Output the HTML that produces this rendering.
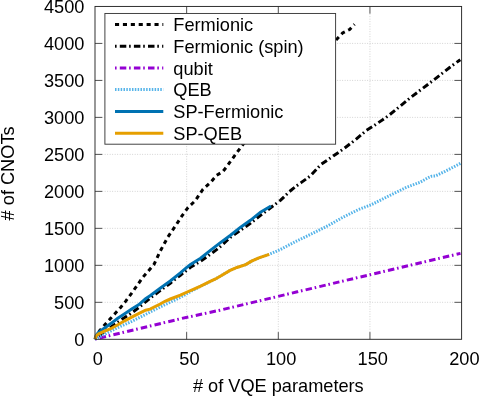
<!DOCTYPE html>
<html><head><meta charset="utf-8"><title>chart</title>
<style>
html,body{margin:0;padding:0;background:#fff;}
body{width:479px;height:396px;overflow:hidden;}
svg{display:block;will-change:transform;}
text{font-family:"Liberation Sans",sans-serif;font-size:18.2px;fill:#000;}
</style></head><body>
<svg width="479" height="396" viewBox="0 0 479 396">
<rect x="0" y="0" width="479" height="396" fill="#fff"/>
<g stroke="#b0b0b0" stroke-width="0.6" stroke-dasharray="0.9 1.6" fill="none">
<line x1="186.65" y1="332.10" x2="186.65" y2="13.64"/>
<line x1="278.30" y1="332.10" x2="278.30" y2="13.64"/>
<line x1="369.95" y1="332.10" x2="369.95" y2="13.64"/>
<line x1="102.20" y1="302.32" x2="454.40" y2="302.32"/>
<line x1="102.20" y1="265.33" x2="454.40" y2="265.33"/>
<line x1="102.20" y1="228.35" x2="454.40" y2="228.35"/>
<line x1="102.20" y1="191.36" x2="454.40" y2="191.36"/>
<line x1="102.20" y1="154.38" x2="454.40" y2="154.38"/>
<line x1="102.20" y1="117.39" x2="454.40" y2="117.39"/>
<line x1="102.20" y1="80.41" x2="454.40" y2="80.41"/>
<line x1="102.20" y1="43.42" x2="454.40" y2="43.42"/>
</g>
<g stroke="#3c3c3c" stroke-width="0.9" fill="none">
<line x1="186.65" y1="339.30" x2="186.65" y2="332.10"/>
<line x1="186.65" y1="6.44" x2="186.65" y2="13.64"/>
<line x1="278.30" y1="339.30" x2="278.30" y2="332.10"/>
<line x1="278.30" y1="6.44" x2="278.30" y2="13.64"/>
<line x1="369.95" y1="339.30" x2="369.95" y2="332.10"/>
<line x1="369.95" y1="6.44" x2="369.95" y2="13.64"/>
<line x1="95.00" y1="302.32" x2="102.20" y2="302.32"/>
<line x1="461.60" y1="302.32" x2="454.40" y2="302.32"/>
<line x1="95.00" y1="265.33" x2="102.20" y2="265.33"/>
<line x1="461.60" y1="265.33" x2="454.40" y2="265.33"/>
<line x1="95.00" y1="228.35" x2="102.20" y2="228.35"/>
<line x1="461.60" y1="228.35" x2="454.40" y2="228.35"/>
<line x1="95.00" y1="191.36" x2="102.20" y2="191.36"/>
<line x1="461.60" y1="191.36" x2="454.40" y2="191.36"/>
<line x1="95.00" y1="154.38" x2="102.20" y2="154.38"/>
<line x1="461.60" y1="154.38" x2="454.40" y2="154.38"/>
<line x1="95.00" y1="117.39" x2="102.20" y2="117.39"/>
<line x1="461.60" y1="117.39" x2="454.40" y2="117.39"/>
<line x1="95.00" y1="80.41" x2="102.20" y2="80.41"/>
<line x1="461.60" y1="80.41" x2="454.40" y2="80.41"/>
<line x1="95.00" y1="43.42" x2="102.20" y2="43.42"/>
<line x1="461.60" y1="43.42" x2="454.40" y2="43.42"/>
</g>
<polyline points="95.0,339.1 97.0,334.5 100.0,330.3 105.3,324.2 110.0,319.1 115.3,313.3 120.6,307.4 125.4,301.6 131.7,293.2 142.6,277.6 153.9,264.6 160.3,251.0 167.9,237.0 176.7,224.0 182.0,215.8 188.1,207.4 195.2,200.8 203.0,189.2 210.6,182.4 216.7,175.2 222.7,171.7 226.5,167.0 230.3,161.6 240.9,147.2 250.0,135.5" fill="none" stroke="#000" stroke-width="3" stroke-dasharray="4.1 3.8"/>
<polyline points="331.0,45.3 335.5,40.5 342.6,33.0 349.6,29.5 354.5,24.3" fill="none" stroke="#000" stroke-width="3" stroke-dasharray="4.1 3.8" stroke-dashoffset="0.55"/>
<polyline points="95.0,339.1 103.9,332.0 110.8,327.2 117.8,322.2 124.7,317.5 131.7,312.9 137.2,308.8 150.0,298.3 160.2,290.6 170.3,283.2 180.4,275.2 190.5,267.3 200.6,261.2 210.7,254.1 218.8,248.0 230.2,237.5 250.4,223.3 260.5,215.3 270.6,207.8 280.7,200.1 289.5,191.5 295.9,186.4 301.4,182.4 310.5,175.8 321.1,164.4 333.2,156.1 343.8,148.7 355.9,139.4 366.5,130.3 374.1,125.6 387.8,116.2 410.8,97.4 433.7,80.0 450.0,67.2 460.3,59.7" fill="none" stroke="#000" stroke-width="3" stroke-dasharray="1.6 3.2 6.5 2.8"/>
<polyline points="95.0,339.1 182.0,318.4 220.0,310.2 297.3,291.8 460.5,253.4" fill="none" stroke="#9400d3" stroke-width="3" stroke-dasharray="1.6 3.2 6.5 2.8"/>
<polyline points="95.0,339.1 103.9,334.6 117.8,327.6 131.7,321.4 145.6,314.4 160.2,307.0 180.4,297.4 190.5,291.6 200.6,286.3 210.7,281.3 215.0,279.2 219.8,276.5 229.6,270.7 236.9,267.5 245.7,264.6 251.5,261.2 258.9,257.8 269.2,254.3 280.0,249.7 295.7,241.5 311.3,234.0 327.0,226.2 342.7,217.4 358.4,209.6 370.9,204.9 389.7,195.5 405.4,187.8 420.0,182.3 428.5,177.5 431.5,176.2 435.5,175.9 445.0,171.4 460.5,163.4" fill="none" stroke="#56b4e9" stroke-width="3" stroke-dasharray="1.5 1.33"/>
<polyline points="95.0,339.1 96.3,335.2 98.3,332.6 103.9,328.4 110.8,323.6 117.8,318.2 124.7,313.7 131.7,309.0 138.6,304.8 145.6,298.8 150.1,295.8 160.2,288.2 170.3,281.0 180.4,272.9 186.5,267.6 190.5,264.6 200.6,258.2 210.7,250.1 220.1,242.9 230.2,235.5 240.3,227.4 250.4,220.3 260.5,212.2 271.0,206.0" fill="none" stroke="#0072b2" stroke-width="3"/>
<polyline points="95.0,339.1 96.2,335.8 98.3,334.1 103.9,331.3 110.8,328.7 117.8,324.8 124.7,320.8 131.7,317.1 138.6,313.6 145.6,310.2 150.1,309.2 160.2,304.0 165.0,301.3 170.3,299.0 180.4,295.2 190.5,290.5 200.6,286.1 210.7,281.2 215.0,279.2 219.8,276.5 229.6,270.7 236.9,267.5 245.7,264.6 251.5,261.2 258.9,257.8 269.2,254.3" fill="none" stroke="#e69f00" stroke-width="3"/>
<rect x="95.00" y="6.44" width="366.60" height="332.86" fill="none" stroke="#262626" stroke-width="0.95"/>
<rect x="104.90" y="13.46" width="230.70" height="130.74" fill="#fff" stroke="#3a3a3a" stroke-width="0.95"/>
<line x1="115" y1="24.50" x2="163.3" y2="24.50" stroke="#000" stroke-width="3" stroke-dasharray="4.1 3.8"/>
<text x="173.3" y="31.00">Fermionic</text>
<line x1="115" y1="46.30" x2="163.3" y2="46.30" stroke="#000" stroke-width="3" stroke-dasharray="1.6 3.2 6.5 2.8"/>
<text x="173.3" y="52.80">Fermionic (spin)</text>
<line x1="115" y1="68.00" x2="163.3" y2="68.00" stroke="#9400d3" stroke-width="3" stroke-dasharray="1.6 3.2 6.5 2.8"/>
<text x="173.3" y="74.50">qubit</text>
<line x1="115" y1="89.60" x2="163.3" y2="89.60" stroke="#56b4e9" stroke-width="3" stroke-dasharray="1.5 1.33"/>
<text x="173.3" y="96.10">QEB</text>
<line x1="115" y1="111.50" x2="163.3" y2="111.50" stroke="#0072b2" stroke-width="3"/>
<text x="173.3" y="118.00">SP-Fermionic</text>
<line x1="115" y1="133.30" x2="163.3" y2="133.30" stroke="#e69f00" stroke-width="3"/>
<text x="173.3" y="139.80">SP-QEB</text>
<text x="97.80" y="365.0" text-anchor="middle">0</text>
<text x="189.45" y="365.0" text-anchor="middle">50</text>
<text x="281.10" y="365.0" text-anchor="middle">100</text>
<text x="372.75" y="365.0" text-anchor="middle">150</text>
<text x="464.40" y="365.0" text-anchor="middle">200</text>
<text x="84.4" y="346.25" text-anchor="end">0</text>
<text x="84.4" y="309.27" text-anchor="end">500</text>
<text x="84.4" y="272.28" text-anchor="end">1000</text>
<text x="84.4" y="235.30" text-anchor="end">1500</text>
<text x="84.4" y="198.31" text-anchor="end">2000</text>
<text x="84.4" y="161.33" text-anchor="end">2500</text>
<text x="84.4" y="124.34" text-anchor="end">3000</text>
<text x="84.4" y="87.36" text-anchor="end">3500</text>
<text x="84.4" y="50.37" text-anchor="end">4000</text>
<text x="84.4" y="13.39" text-anchor="end">4500</text>
<text x="278.3" y="391.6" text-anchor="middle"># of VQE parameters</text>
<text transform="translate(14.4,173.4) rotate(-90)" text-anchor="middle"># of CNOTs</text>
</svg>
</body></html>
